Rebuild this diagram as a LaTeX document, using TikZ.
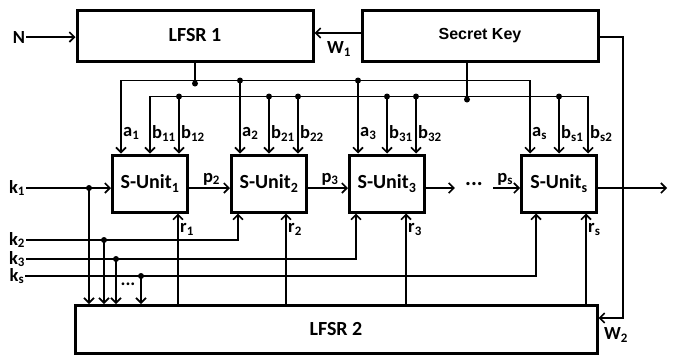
\documentclass[tikz,border=0pt]{standalone}
\usepackage{fontspec}
\setmainfont{Carlito}
\newfontfamily\keyfont{Liberation Sans}
\usetikzlibrary{positioning,calc,arrows.meta}

\tikzset{
  blockbox/.style={draw, line width=3pt, minimum width=236pt, minimum height=51pt, inner sep=0pt,
    font=\fontsize{20}{23}\selectfont\bfseries},
  unitbox/.style={draw, line width=3pt, minimum width=75pt, minimum height=57pt, inner sep=0pt,
    font=\fontsize{20}{23}\selectfont\bfseries},
  wire/.style={line width=1.6pt},
  sig/.style={wire, -{Straight Barb[length=5pt,width=10pt]}},
  junc/.style={circle, fill, inner sep=0pt, minimum size=6pt},
  lab/.style={inner sep=1pt, font=\fontsize{18.5}{20}\selectfont\bfseries},
}

\begin{document}
\begin{tikzpicture}[x=1pt,y=-1pt]
  \useasboundingbox (0,0) rectangle (674,354);

  % register blocks and key
  \node[blockbox] (lfsra) at (195,35.5) {LFSR 1};
  \node[blockbox, font=\fontsize{16}{19}\selectfont\bfseries\keyfont] (key) at (480,35.5) {Secret Key};
  \node[blockbox, minimum width=522pt, minimum height=48pt] (lfsrb) at (336,329.5) {LFSR 2};

  % S-units
  \node[unitbox] (su1) at (150,183.5) {S-Unit\textsubscript{1}};
  \node[unitbox] (su2) at (269,183.5) {S-Unit\textsubscript{2}};
  \node[unitbox] (su3) at (387,183.5) {S-Unit\textsubscript{3}};
  \node[unitbox] (sus) at (559,183.5) {S-Unit\textsubscript{s}};

  % inputs N, W1, W2
  \node[lab] (nin) at (19,37) {N};
  \draw[sig] (nin.east) -- (nin.east -| lfsra.west);
  \draw[sig] ([yshift=2.5pt]key.west) -- ([yshift=2.5pt]lfsra.east);
  \node[lab] (w1) at (339,49) {W\textsubscript{1}};
  \coordinate (wturn) at (623,318);
  \draw[sig] ([yshift=-1.5pt]key.east) -| (wturn) -- (wturn -| lfsrb.east);
  \node[lab] (w2) at (616,335) {W\textsubscript{2}};

  % bus a (from LFSR 1)
  \draw[wire] (lfsra.south) -- ++(0,21) node[junc]{};
  \draw[wire, {Straight Barb[length=5pt,width=10pt]}-{Straight Barb[length=5pt,width=10pt]}]
    ([xshift=-29pt]su1.north) -- ++(0,-73) -| ([xshift=-29pt]sus.north);
  \foreach \u in {su2,su3}
    \draw[sig] ([xshift=-29pt,yshift=73pt]\u.north) node[junc]{} -- ([xshift=-29pt]\u.north);

  % bus b (from secret key)
  \draw[wire] ([xshift=-13pt]key.south) -- ++(0,37) node[junc]{};
  \draw[wire, {Straight Barb[length=5pt,width=10pt]}-{Straight Barb[length=5pt,width=10pt]}]
    (su1.north) -- ++(0,-57) -| ([xshift=29pt]sus.north);
  \foreach \u/\dx in {su1/29,su2/0,su2/29,su3/0,su3/29,sus/0}
    \draw[sig] ([xshift=\dx pt,yshift=57pt]\u.north) node[junc]{} -- ([xshift=\dx pt]\u.north);

  % top labels
  \foreach \u/\n in {su1/1,su2/2,su3/3,sus/s}{
    \node[lab, anchor=west] at ([xshift=-28pt,yshift=20pt]\u.north) {a\textsubscript{\n}};
    \node[lab, anchor=west] at ([xshift=1pt,yshift=20pt]\u.north) {b\textsubscript{\n1}};
    \node[lab, anchor=west] at ([xshift=30pt,yshift=20pt]\u.north) {b\textsubscript{\n2}};
  }

  % chain through the S-units
  \node[lab] (k1) at (17,188) {k\textsubscript{1}};
  \draw[sig] (k1.east) -- (k1.east -| su1.west);
  \draw[sig] (su1.east |- k1) -- (su2.west |- k1) node[lab, pos=0.55, above=1pt] {p\textsubscript{2}};
  \draw[sig] (su2.east |- k1) -- (su3.west |- k1) node[lab, pos=0.55, above=1pt] {p\textsubscript{3}};
  \node[lab, minimum width=38pt, font=\fontsize{22}{24}\selectfont\bfseries] (gap) at (474,184) {...};
  \draw[sig] (su3.east |- k1) -- (gap.west |- k1);
  \draw[sig] (gap.east |- k1) -- (sus.west |- k1) node[lab, pos=0.45, above=1pt] {p\textsubscript{s}};
  \coordinate (out) at (667,188);
  \draw[sig] (sus.east |- k1) -- (out);

  % key words into the S-units
  \node[lab] (k2) at (17,240) {k\textsubscript{2}};
  \node[lab] (k3) at (17,259) {k\textsubscript{3}};
  \node[lab] (ks) at (17,276) {k\textsubscript{s}};
  \draw[sig] (k2.east) -| ([xshift=-31pt]su2.south);
  \draw[sig] (k3.east) -| ([xshift=-31pt]su3.south);
  \draw[sig] (ks.east) -| ([xshift=-23pt]sus.south);

  % taps into LFSR 2
  \foreach \x/\k in {89/k1,104/k2,116/k3,141/ks}{
    \coordinate (t\k) at (\x,0);
    \draw[sig] (t\k |- \k) node[junc]{} -- (t\k |- lfsrb.north);
  }
  \node[lab] (tapdots) at (128,284) {...};

  % r outputs of LFSR 2
  \foreach \u/\dx/\n in {su1/28/1,su2/17/2,su3/19/3,sus/27/s}{
    \draw[sig] ([xshift=\dx pt,yshift=-93pt]\u.south) -- ([xshift=\dx pt]\u.south);
    \node[lab, anchor=west] at ([xshift=\dx pt+1pt,yshift=-16pt]\u.south) {r\textsubscript{\n}};
  }
\end{tikzpicture}
\end{document}
